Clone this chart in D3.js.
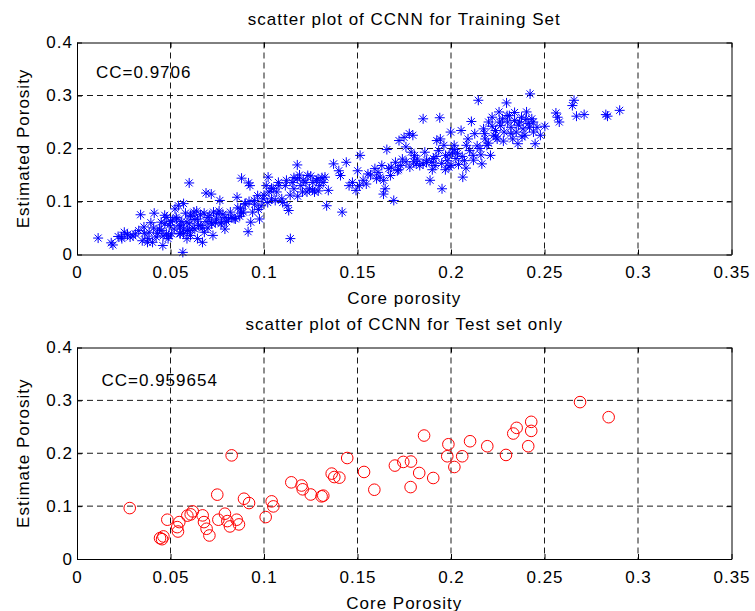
<!DOCTYPE html>
<html>
<head>
<meta charset="utf-8">
<script src="https://cdn.jsdelivr.net/npm/d3@7/dist/d3.min.js"></script>
<style>
  html, body { margin: 0; padding: 0; background: #fff; }
  svg { display: block; }
  text { font-family: "Liberation Sans", Arial, sans-serif; font-size: 17px; letter-spacing: 1px; fill: #000; }
</style>
</head>
<body>
<svg id="chart" width="755" height="611"></svg>
<script>
// Axis ticks shared by both panels
const xTicks = [0, 0.05, 0.1, 0.15, 0.2, 0.25, 0.3, 0.35];
const yTicks = [0, 0.1, 0.2, 0.3, 0.4];

// Panel texts
const titles = ["scatter plot of CCNN for Training Set", "scatter plot of CCNN for Test set only"];
const xLabels = ["Core porosity", "Core Porosity"];
const yLabels = ["Estimated Porosity", "Estimate Porosity"];
const ccLabels = ["CC=0.9706", "CC=0.959654"];

// Training set: [core porosity, estimated porosity]
const trainSet = [
  [0.0113,0.031],[0.0183,0.022],[0.0192,0.018],[0.0253,0.042],[0.0238,0.033],[0.0284,0.033],
  [0.0312,0.039],[0.034,0.075],[0.0349,0.026],[0.0377,0.023],[0.0386,0.042],[0.0395,0.060],
  [0.0413,0.078],[0.0423,0.033],[0.0441,0.048],[0.0459,0.017],[0.0469,0.074],[0.0478,0.039],
  [0.0487,0.030],[0.0493,0.055],[0.045,0.061],[0.0358,0.052],[0.0404,0.023],[0.0506,0.039],
  [0.0524,0.086],[0.0542,0.092],[0.057,0.096],[0.0566,0.004],[0.06,0.135],[0.0533,0.067],
  [0.0552,0.055],[0.057,0.048],[0.0588,0.061],[0.0607,0.074],[0.0625,0.080],[0.0644,0.067],
  [0.0662,0.055],[0.0681,0.042],[0.0671,0.023],[0.0607,0.036],[0.0588,0.030],[0.0552,0.039],
  [0.0644,0.030],[0.069,0.116],[0.0718,0.114],[0.07,0.070],[0.0718,0.061],[0.0746,0.067],
  [0.0764,0.102],[0.0754,0.077],[0.0773,0.061],[0.0791,0.048],[0.0727,0.036],[0.0791,0.070],
  [0.081,0.067],[0.0828,0.070],[0.0847,0.067],[0.0856,0.108],[0.0874,0.086],[0.088,0.144],
  [0.0917,0.135],[0.0925,0.130],[0.0898,0.096],[0.0915,0.043],[0.0929,0.061],[0.0939,0.080],
  [0.0948,0.102],[0.0966,0.111],[0.0976,0.067],[0.0985,0.092],[0.0994,0.105],[0.1012,0.130],
  [0.1022,0.146],[0.1027,0.118],[0.104,0.105],[0.1049,0.124],[0.1068,0.118],[0.1077,0.136],
  [0.1095,0.105],[0.1114,0.130],[0.1123,0.092],[0.1141,0.030],[0.1132,0.083],[0.1151,0.136],
  [0.116,0.124],[0.1178,0.169],[0.1178,0.143],[0.1197,0.130],[0.1206,0.118],[0.1224,0.136],
  [0.1234,0.149],[0.1243,0.124],[0.1261,0.136],[0.127,0.118],[0.1289,0.143],[0.1298,0.130],
  [0.1317,0.136],[0.1326,0.146],[0.1335,0.092],[0.1344,0.121],[0.1372,0.171],[0.14,0.158],
  [0.1409,0.149],[0.1418,0.080],[0.144,0.174],[0.1455,0.130],[0.1473,0.136],[0.1492,0.121],
  [0.1501,0.158],[0.1514,0.187],[0.151,0.130],[0.1547,0.133],[0.1556,0.152],[0.1593,0.162],
  [0.1602,0.143],[0.1621,0.146],[0.163,0.168],[0.1639,0.114],[0.1648,0.124],[0.1657,0.198],
  [0.1667,0.162],[0.1676,0.149],[0.1694,0.102],[0.1703,0.174],[0.1713,0.158],[0.1722,0.215],
  [0.1731,0.168],[0.1749,0.221],[0.1759,0.203],[0.1777,0.228],[0.1787,0.193],[0.1796,0.225],
  [0.1805,0.187],[0.1814,0.171],[0.1833,0.168],[0.1851,0.256],[0.1851,0.171],[0.186,0.193],
  [0.1869,0.174],[0.1888,0.140],[0.1897,0.174],[0.1906,0.181],[0.1915,0.168],[0.1924,0.215],
  [0.1934,0.196],[0.194,0.258],[0.1943,0.218],[0.1952,0.124],[0.1962,0.206],[0.1971,0.187],
  [0.198,0.177],[0.1989,0.165],[0.1998,0.231],[0.2008,0.193],[0.2017,0.206],[0.2026,0.181],
  [0.2035,0.191],[0.2054,0.234],[0.2063,0.146],[0.2072,0.177],[0.2082,0.206],[0.2091,0.218],
  [0.2109,0.251],[0.2118,0.187],[0.2127,0.228],[0.2146,0.291],[0.2155,0.200],[0.2165,0.171],
  [0.2174,0.237],[0.2183,0.218],[0.2192,0.206],[0.2201,0.250],[0.2211,0.187],[0.222,0.259],
  [0.2229,0.225],[0.2238,0.234],[0.2247,0.218],[0.2257,0.269],[0.2266,0.243],[0.2275,0.256],
  [0.2284,0.231],[0.2297,0.286],[0.2303,0.250],[0.2312,0.262],[0.2321,0.240],[0.233,0.218],
  [0.234,0.253],[0.2349,0.231],[0.2358,0.209],[0.2367,0.250],[0.2377,0.259],[0.2386,0.237],
  [0.2395,0.225],[0.2404,0.269],[0.2413,0.247],[0.2423,0.303],[0.2432,0.256],[0.2441,0.231],
  [0.245,0.209],[0.246,0.240],[0.2478,0.225],[0.2502,0.242],[0.2561,0.267],[0.2579,0.250],
  [0.257,0.259],[0.2649,0.281],[0.2658,0.291],[0.2671,0.261],[0.2712,0.264],[0.2828,0.264],
  [0.2837,0.261],[0.2902,0.272],
  [0.045,0.045],[0.047,0.058],[0.049,0.035],[0.051,0.065],[0.052,0.048],[0.053,0.070],
  [0.055,0.040],[0.056,0.062],[0.058,0.078],[0.059,0.045],[0.060,0.058],[0.061,0.072],
  [0.062,0.050],[0.063,0.066],[0.064,0.082],[0.065,0.055],[0.066,0.075],[0.067,0.050],
  [0.068,0.078],[0.069,0.062],[0.070,0.050],[0.071,0.074],[0.072,0.058],[0.073,0.080],
  [0.074,0.060],[0.076,0.082],[0.077,0.058],[0.078,0.076],[0.080,0.062],[0.082,0.080],
  [0.084,0.068],[0.086,0.088],[0.088,0.078],[0.090,0.095],[0.057,0.040],[0.060,0.045],
  [0.063,0.048],[0.055,0.052],[0.050,0.062],[0.048,0.070],[0.046,0.035],[0.043,0.040],
  [0.041,0.050],[0.038,0.030],[0.036,0.040],[0.033,0.045],[0.030,0.035],[0.027,0.038],
  [0.024,0.030],[0.022,0.034],
  [0.100,0.112],[0.102,0.098],[0.104,0.125],[0.106,0.102],[0.108,0.130],[0.110,0.098],
  [0.112,0.140],[0.114,0.112],[0.116,0.145],[0.118,0.110],[0.119,0.150],[0.121,0.140],
  [0.123,0.118],[0.125,0.148],[0.126,0.122],[0.128,0.140],[0.129,0.120],[0.131,0.145],
  [0.095,0.095],[0.097,0.085],[0.092,0.100],[0.089,0.080],[0.087,0.072],
  [0.153,0.140],[0.157,0.150],[0.161,0.155],[0.164,0.140],[0.168,0.165],[0.172,0.160],
  [0.174,0.180],[0.176,0.175],[0.178,0.165],[0.180,0.175],[0.182,0.180],
  [0.187,0.178],[0.190,0.160],[0.192,0.185],[0.195,0.172],[0.197,0.160],[0.199,0.188],
  [0.200,0.168],[0.202,0.198],[0.204,0.170],[0.206,0.185],[0.208,0.163],[0.210,0.196],
  [0.212,0.178],[0.214,0.205],[0.216,0.188],[0.218,0.228],[0.220,0.210],[0.222,0.242],
  [0.224,0.222],[0.226,0.250],[0.228,0.214],[0.230,0.262],[0.232,0.228],[0.234,0.268],
  [0.236,0.244],[0.238,0.222],[0.240,0.255],[0.242,0.240],[0.244,0.250]
];

// Test set: [core porosity, estimated porosity]
const testSet = [
  [0.0282,0.0963],[0.0827,0.196],[0.0483,0.0743],[0.0444,0.0394],[0.0462,0.0427],[0.0455,0.0375],
  [0.0536,0.0603],[0.054,0.052],[0.0547,0.0698],[0.059,0.082],[0.0619,0.090],[0.0608,0.0844],
  [0.0672,0.0825],[0.0679,0.0698],[0.0693,0.0572],[0.0708,0.0445],[0.075,0.1217],[0.0756,0.0743],
  [0.0791,0.0857],[0.0804,0.0717],[0.0818,0.0616],[0.0854,0.0743],[0.0866,0.0654],[0.0893,0.114],
  [0.092,0.1058],[0.1009,0.0793],[0.1041,0.109],[0.105,0.0995],[0.1146,0.145],[0.1201,0.139],
  [0.1207,0.1318],[0.125,0.122],[0.1308,0.1185],[0.1317,0.1198],[0.1362,0.1615],[0.1376,0.155],
  [0.1403,0.1539],[0.1445,0.191],[0.1535,0.1646],[0.159,0.131],[0.170,0.1767],[0.1745,0.1836],
  [0.1786,0.1843],[0.183,0.1627],[0.1784,0.136],[0.1856,0.2335],[0.1905,0.1532],[0.1986,0.217],
  [0.198,0.1943],[0.2018,0.174],[0.206,0.1943],[0.2102,0.2227],[0.2194,0.2133],[0.2294,0.1968],
  [0.2333,0.2373],[0.2351,0.248],[0.2413,0.2133],[0.2429,0.2423],[0.2429,0.2594],[0.269,0.2967],
  [0.2843,0.2682]
];

const svg = d3.select("#chart");
const left = 77, right = 731.5;

const panels = [
  { top: 42.5, bottom: 254.5, data: trainSet, kind: "star" },
  { top: 347.5, bottom: 559, data: testSet, kind: "circle" }
];

// Asterisk marker: plus with a smaller cross on top
const star = "M-5,0H5M0,-5V5M-3.5,-3.5L3.5,3.5M-3.5,3.5L3.5,-3.5";

panels.forEach((p, i) => {
  const x = d3.scaleLinear().domain([0, 0.35]).range([left, right]);
  const y = d3.scaleLinear().domain([0, 0.4]).range([p.bottom, p.top]);
  const g = svg.append("g");

  // dashed grid at interior ticks
  g.append("g").selectAll("line")
    .data(xTicks.slice(1, -1)).join("line")
    .attr("x1", d => x(d)).attr("x2", d => x(d))
    .attr("y1", p.top).attr("y2", p.bottom)
    .attr("stroke", "#000").attr("stroke-width", 0.9)
    .attr("stroke-dasharray", "6,4");
  g.append("g").selectAll("line")
    .data(yTicks.slice(1, -1)).join("line")
    .attr("x1", left).attr("x2", right)
    .attr("y1", d => y(d)).attr("y2", d => y(d))
    .attr("stroke", "#000").attr("stroke-width", 0.9)
    .attr("stroke-dasharray", "6,4");

  // marks
  if (p.kind === "star") {
    g.append("g").selectAll("path")
      .data(p.data).join("path")
      .attr("transform", d => `translate(${x(d[0])},${y(d[1])})`)
      .attr("d", star)
      .attr("fill", "none").attr("stroke", "#0000ff").attr("stroke-width", 1);
  } else {
    g.append("g").selectAll("circle")
      .data(p.data).join("circle")
      .attr("cx", d => x(d[0])).attr("cy", d => y(d[1]))
      .attr("r", 5.8)
      .attr("fill", "none").attr("stroke", "#ff0000").attr("stroke-width", 1);
  }

  // axes with inward ticks on all four sides
  const fmt = d => String(d);
  const xb = g.append("g").attr("transform", `translate(0,${p.bottom})`)
    .call(d3.axisBottom(x).tickValues(xTicks).tickFormat(fmt).tickSize(-5).tickSizeOuter(0).tickPadding(11.5));
  const xt = g.append("g").attr("transform", `translate(0,${p.top})`)
    .call(d3.axisTop(x).tickValues(xTicks).tickFormat("").tickSize(-5).tickSizeOuter(0));
  const yl = g.append("g").attr("transform", `translate(${left},0)`)
    .call(d3.axisLeft(y).tickValues(yTicks).tickFormat(fmt).tickSize(-5).tickSizeOuter(0).tickPadding(4));
  const yr = g.append("g").attr("transform", `translate(${right},0)`)
    .call(d3.axisRight(y).tickValues(yTicks).tickFormat("").tickSize(-5).tickSizeOuter(0));
  [xb, xt, yl, yr].forEach(a => {
    a.attr("font-family", null).attr("font-size", null);
    a.selectAll("path.domain").attr("stroke", "#000").attr("stroke-width", 1);
    a.selectAll(".tick line").attr("stroke", "#000");
    a.selectAll(".tick text").attr("fill", "#000");
  });

  // titles and labels
  const cx = (left + right) / 2, cy = (p.top + p.bottom) / 2;
  g.append("text").attr("x", cx).attr("y", p.top - 17.5)
    .attr("text-anchor", "middle").text(titles[i]);
  g.append("text").attr("x", cx).attr("y", p.bottom + 49.5)
    .attr("text-anchor", "middle").text(xLabels[i]);
  g.append("text").attr("transform", `translate(28.5,${cy}) rotate(-90)`)
    .attr("text-anchor", "middle").text(yLabels[i]);
  g.append("text").attr("x", i === 0 ? 96 : 101.5).attr("y", p.top + (i === 0 ? 35.5 : 38.5))
    .text(ccLabels[i]);
});
</script>
</body>
</html>
